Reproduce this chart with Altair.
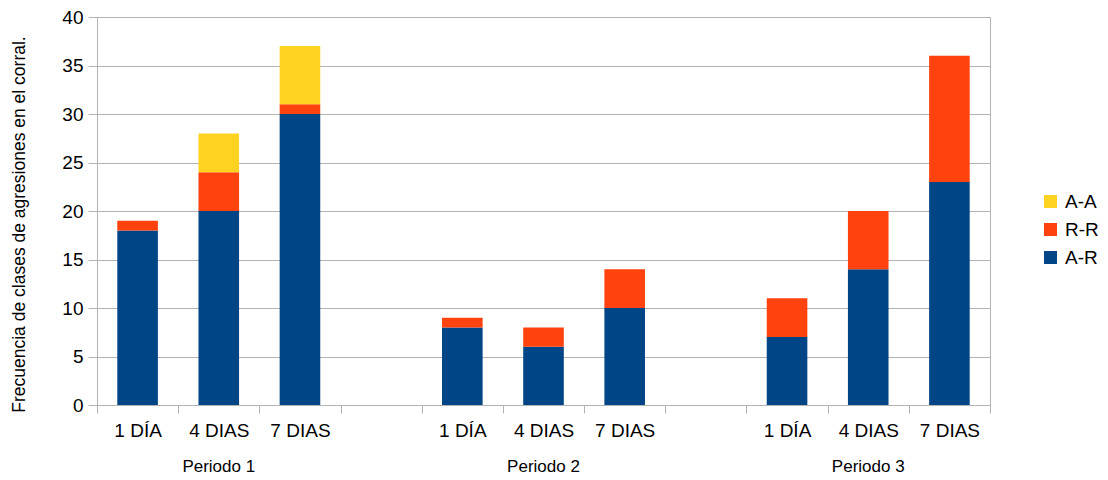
import altair as alt
import pandas as pd

periods = ["Periodo 1", "Periodo 2", "Periodo 3"]
days = ["1 DÍA", "4 DIAS", "7 DIAS"]
series = ["A-R", "R-R", "A-A"]
colors = ["#004586", "#ff420e", "#ffd320"]
ar = [18, 20, 30, 8, 6, 10, 7, 14, 23]
rr = [1, 4, 1, 1, 2, 4, 4, 6, 13]
aa = [0, 4, 6, 0, 0, 0, 0, 0, 0]

n_slots = len(periods) * (len(days) + 1) - 1
slot_labels = [""] * n_slots
rows = []
for p in range(len(periods)):
    for d in range(len(days)):
        k = p * len(days) + d
        s = p * (len(days) + 1) + d
        slot_labels[s] = days[d]
        for i, (name, vals) in enumerate(zip(series, [ar, rr, aa])):
            rows.append({"slot": s, "serie": name, "valor": vals[k], "ord": i})
df = pd.DataFrame(rows)
pdf = pd.DataFrame({"slot": [p * (len(days) + 1) + 1 for p in range(len(periods))],
                    "periodo": periods})

label_expr = "[" + ",".join("'" + l + "'" for l in slot_labels) + "][datum.value]"
FONT = "Liberation Sans"
W, H = 893, 388

xscale = alt.Scale(domain=list(range(n_slots)), paddingInner=0, paddingOuter=0)

bars = alt.Chart(df).mark_bar(width={"band": 0.5}).encode(
    x=alt.X("slot:O", scale=xscale, title=None,
            axis=alt.Axis(labelExpr=label_expr, labelAngle=0, tickBand="extent",
                          tickSize=8, labelPadding=8, labelFontSize=19, labelFont=FONT,
                          labelColor="#000000", domainColor="#b3b3b3", tickColor="#b3b3b3",
                          grid=False)),
    y=alt.Y("valor:Q", stack="zero", scale=alt.Scale(domain=[0, 40], nice=False),
            title="Frecuencia de clases de agresiones en el corral.",
            axis=alt.Axis(values=list(range(0, 41, 5)), tickSize=9, labelPadding=5,
                          labelFontSize=19, labelFont=FONT, labelColor="#000000",
                          gridColor="#b3b3b3", domainColor="#b3b3b3", tickColor="#b3b3b3",
                          titleFont=FONT, titleFontSize=17.5, titleFontWeight="normal",
                          titleColor="#000000", titleX=-78, titleY=207,
                          titleAlign="center", titleBaseline="middle", titleAngle=-90)),
    color=alt.Color("serie:N",
                    scale=alt.Scale(domain=["A-A", "R-R", "A-R"],
                                    range=[colors[2], colors[1], colors[0]]),
                    legend=alt.Legend(title=None, orient="none", legendX=944, legendY=175,
                                      symbolType="square", symbolSize=169,
                                      symbolStrokeWidth=0, labelFontSize=19,
                                      labelFont=FONT, labelColor="#000000",
                                      rowPadding=8, labelOffset=5)),
    order=alt.Order("ord:Q", sort="ascending"),
)

ptext = alt.Chart(pdf).mark_text(font=FONT, fontSize=17, color="#000000",
                                 baseline="middle").encode(
    x=alt.X("slot:O", scale=xscale),
    y=alt.value(H + 62),
    text="periodo:N",
)

chart = alt.layer(bars, ptext).properties(
    width=W, height=H, autosize="none",
    padding={"left": 89, "top": 9, "right": 110, "bottom": 80},
).configure_view(stroke="#b3b3b3", strokeWidth=1)

chart.save("out.html", embed_options={"renderer": "svg", "actions": False})
